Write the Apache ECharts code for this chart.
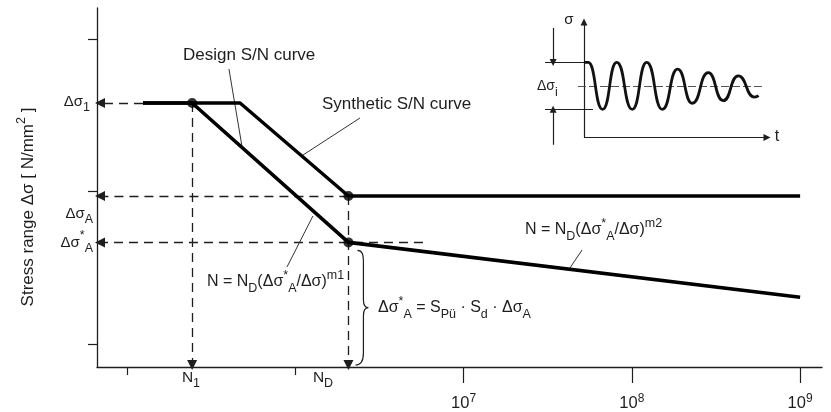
<!DOCTYPE html>
<html><head><meta charset="utf-8">
<script src="https://cdn.jsdelivr.net/npm/echarts@6/dist/echarts.min.js"></script>
<style>html,body{margin:0;padding:0;background:#fff}#c{width:831px;height:412px}</style>
</head><body><div id="c"></div>
<script>
// ---------------- data ----------------
const xTickMinorExps = [5, 6];          // short ticks (no label)
const xLabelExps = [7, 8, 9];           // labelled decades 10^7..10^9
const yTickValues = [1, 2, 3];
// S/N curves: cycles N and stress range (schematic units)
const synthN = [1.245e5, 4.70e5, 2.07e6, 1e9];
const synthS = [2.58, 2.58, 1.97, 1.97];
const designN = [1.245e5, 2.44e5, 2.07e6, 1e9];
const designS = [2.58, 2.58, 1.666, 1.306];
const N1 = 2.44e5, ND = 2.07e6;
const dSig1 = 2.58, dSigA = 1.97, dSigAstar = 1.666;
const dSigAstarGuideEnd = 5.74e6;
const dotN = [N1, ND, ND];
const dotS = [dSig1, dSigA, dSigAstar];
// inset stress-time signal (turning points)
const waveT = [0, 0.14, 0.62, 1.09, 1.61, 2.09, 2.61, 3.12, 3.61, 4.14, 4.64, 5.14, 5.68, 5.82];
const waveS = [1.0, 1.0, -1.0, 1.0, -1.0, 1.0, -1.0, 0.71, -0.74, 0.56, -0.63, 0.43, -0.48, -0.42];

// ---------------- chart ----------------
const F = '"Liberation Sans", Arial, Helvetica, sans-serif';
const INK = '#1e1e1e';
const lg = Math.log10;
const xMin = 4.822, xMax = 9.13, yMin = 0.849, yMax = 3.203;
const xArrow = xMin + 0.018, yArrow = yMin + 0.013;

const zip = (a, b, f) => a.map((v, i) => [f ? f(v) : v, b[i]]);

const R = {
  sub: { fontSize: 12.5, lineHeight: 14, verticalAlign: 'bottom', fontFamily: F, fill: INK },
  sup: { fontSize: 12.5, lineHeight: 14, verticalAlign: 'top', fontFamily: F, fill: INK },
  supsub: { fontSize: 12.5, lineHeight: 20, verticalAlign: 'top', fontFamily: F, fill: INK }
};
function txt(x, y, text, align, size, extra) {
  return Object.assign({
    type: 'text', x: x, y: y, z: 50,
    style: { text: text, fill: INK, fontFamily: F, fontSize: size || 16, lineHeight: 26,
             align: align || 'left', verticalAlign: 'middle', rich: R }
  }, extra || {});
}

const chart = echarts.init(document.getElementById('c'), null, { renderer: 'canvas' });

const guides = [
  [[lg(synthN[0]), dSig1], [xArrow, dSig1]],
  [[lg(ND), dSigA], [xArrow, dSigA]],
  [[lg(dSigAstarGuideEnd), dSigAstar], [xArrow, dSigAstar]],
  [[lg(N1), dSig1], [lg(N1), yArrow]],
  [[lg(ND), dSigA], [lg(ND), yArrow]]
];
const leaders = [
  [[5.606, 2.803], [5.684, 2.292]],
  [[6.385, 2.482], [6.046, 2.239]],
  [[5.951, 1.505], [6.105, 1.839]],
  [[7.704, 1.616], [7.632, 1.498]]
];

const option = {
  animation: false,
  backgroundColor: '#fff',
  grid: [
    { left: 97, top: 8, width: 725, height: 359, outerBoundsMode: 'none', containLabel: false },
    { left: 584, top: 22.5, width: 183, height: 115, outerBoundsMode: 'none', containLabel: false }
  ],
  xAxis: [
    { type: 'value', gridIndex: 0, min: xMin, max: xMax, position: 'bottom',
      axisLine: { show: true, onZero: false, lineStyle: { color: INK, width: 1.3 } },
      axisTick: { show: true, customValues: xTickMinorExps, length: 8, lineStyle: { color: INK, width: 1.2 } },
      axisLabel: { show: false }, splitLine: { show: false } },
    { type: 'value', gridIndex: 0, min: xMin, max: xMax, position: 'bottom',
      axisLine: { show: false },
      axisTick: { show: true, customValues: xLabelExps, length: 16, lineStyle: { color: INK, width: 1.2 } },
      axisLabel: { show: true, customValues: xLabelExps, margin: 26, color: INK, fontFamily: F, fontSize: 16.5, lineHeight: 20,
        formatter: v => '10{sup|' + v + '}',
        rich: { sup: { fontSize: 12, lineHeight: 10, verticalAlign: 'top', fontFamily: F, color: INK } } },
      splitLine: { show: false } },
    { type: 'value', gridIndex: 1, min: 0, max: 6.1, show: false }
  ],
  yAxis: [
    { type: 'value', gridIndex: 0, min: yMin, max: yMax,
      axisLine: { show: true, onZero: false, lineStyle: { color: INK, width: 1.3 } },
      axisTick: { show: true, customValues: yTickValues, length: 9, lineStyle: { color: INK, width: 1.2 } },
      axisLabel: { show: false }, splitLine: { show: false } },
    { type: 'value', gridIndex: 1, min: -2.2, max: 2.7, show: false }
  ],
  series: [
    { name: 'Synthetic S/N curve', type: 'line', xAxisIndex: 0, yAxisIndex: 0,
      data: zip(synthN, synthS, lg), showSymbol: false, symbol: 'none', z: 5,
      lineStyle: { color: '#000', width: 3.4 } },
    { name: 'Design S/N curve', type: 'line', xAxisIndex: 0, yAxisIndex: 0,
      data: zip(designN, designS, lg), showSymbol: false, symbol: 'none', z: 5,
      lineStyle: { color: '#000', width: 3.6 } },
    { type: 'scatter', xAxisIndex: 0, yAxisIndex: 0, data: zip(dotN, dotS, lg),
      symbol: 'circle', symbolSize: 10, itemStyle: { color: '#000' }, z: 8 },
    { type: 'lines', coordinateSystem: 'cartesian2d', xAxisIndex: 0, yAxisIndex: 0, clip: false,
      data: guides.map(c => ({ coords: c })), symbol: ['none', 'triangle'], symbolSize: 10,
      lineStyle: { color: INK, width: 1.3, type: [9, 6], opacity: 1, curveness: 0 }, z: 3 },
    { type: 'lines', coordinateSystem: 'cartesian2d', xAxisIndex: 0, yAxisIndex: 0, clip: false,
      data: leaders.map(c => ({ coords: c })), symbol: ['none', 'none'],
      lineStyle: { color: '#333', width: 1, opacity: 1, curveness: 0 }, z: 3 },
    { type: 'custom', xAxisIndex: 0, yAxisIndex: 0, data: [[lg(ND), dSigAstar]], clip: false, z: 3,
      renderItem: function (params, api) {
        const p = api.coord([lg(ND), dSigAstar]);
        const q = api.coord([lg(ND), yMin]);
        const xl = p[0] + 9, yt = p[1] + 8, yb = q[1] - 2, ym = (yt + yb) / 2;
        const d = 'M' + xl + ',' + yt +
          ' C' + (xl + 5) + ',' + yt + ' ' + (xl + 6) + ',' + (yt + 4) + ' ' + (xl + 6) + ',' + (yt + 12) +
          ' L' + (xl + 6) + ',' + (ym - 8) +
          ' C' + (xl + 6) + ',' + (ym - 3) + ' ' + (xl + 8) + ',' + ym + ' ' + (xl + 11) + ',' + ym +
          ' C' + (xl + 8) + ',' + ym + ' ' + (xl + 6) + ',' + (ym + 3) + ' ' + (xl + 6) + ',' + (ym + 8) +
          ' L' + (xl + 6) + ',' + (yb - 12) +
          ' C' + (xl + 6) + ',' + (yb - 4) + ' ' + (xl + 4) + ',' + yb + ' ' + (xl - 2) + ',' + yb;
        return { type: 'path', shape: { pathData: d }, style: { stroke: INK, fill: null, lineWidth: 1.2 } };
      } },
    // inset
    { type: 'line', xAxisIndex: 2, yAxisIndex: 1, data: zip(waveT, waveS), showSymbol: false, symbol: 'none',
      smooth: 0.55, smoothMonotone: 'x', lineStyle: { color: '#111', width: 2.8 }, z: 6 },
    { type: 'lines', coordinateSystem: 'cartesian2d', xAxisIndex: 2, yAxisIndex: 1, clip: false,
      data: [
        { coords: [[0, -2.2], [0, 2.72]] },
        { coords: [[0, -2.2], [6.1, -2.2]] },
        { coords: [[-1.03, 2.47], [-1.03, 1.0]] },
        { coords: [[-1.03, -2.51], [-1.03, -1.0]] }
      ],
      symbol: ['none', 'triangle'], symbolSize: 7,
      lineStyle: { color: INK, width: 1.2, opacity: 1, curveness: 0 }, z: 4 },
    { type: 'lines', coordinateSystem: 'cartesian2d', xAxisIndex: 2, yAxisIndex: 1, clip: false,
      data: [
        { coords: [[-1.3, 1.0], [0, 1.0]] },
        { coords: [[-1.3, -1.0], [0.3, -1.0]] }
      ],
      symbol: ['none', 'none'], lineStyle: { color: INK, width: 1.1, opacity: 1, curveness: 0 }, z: 4 },
    { type: 'lines', coordinateSystem: 'cartesian2d', xAxisIndex: 2, yAxisIndex: 1, clip: false,
      data: [{ coords: [[-0.2, 0], [5.93, 0]] }],
      symbol: ['none', 'none'], lineStyle: { color: '#555', width: 1, type: [8, 3], opacity: 1, curveness: 0 }, z: 4 }
  ],
  graphic: [
    txt(90, 101.5, 'Δσ{sub|1}', 'right', 15),
    txt(93, 213.5, 'Δσ{sub|A}', 'right', 15),
    txt(93, 242.5, 'Δσ{sup|*}{sub|A}', 'right', 15),
    txt(191, 377.5, 'N{sub|1}', 'center', 15.5),
    txt(323, 377.5, 'N{sub|D}', 'center', 15.5),
    txt(183, 55, 'Design S/N curve', 'left', 17),
    txt(322, 104, 'Synthetic S/N curve', 'left', 17),
    txt(207, 282, 'N = N{sub|D}(Δσ{sup|*}{sub|A}/Δσ){sup|m}{supsub|1}', 'left', 16),
    txt(525, 230, 'N = N{sub|D}(Δσ{sup|*}{sub|A}/Δσ){sup|m}{supsub|2}', 'left', 16),
    txt(378, 308, 'Δσ{sup|*}{sub|A} = S{sub|Pü} · S{sub|d} · Δσ{sub|A}', 'left', 16),
    txt(28, 207, 'Stress range Δσ [ N/mm{sup|2} ]', 'center', 17, { rotation: Math.PI / 2 }),
    txt(569, 20, 'σ', 'center', 15),
    txt(777, 137, 't', 'center', 16),
    txt(537, 86, 'Δσ{sub|i}', 'left', 14)
  ]
};
chart.setOption(option);
</script>
</body></html>
